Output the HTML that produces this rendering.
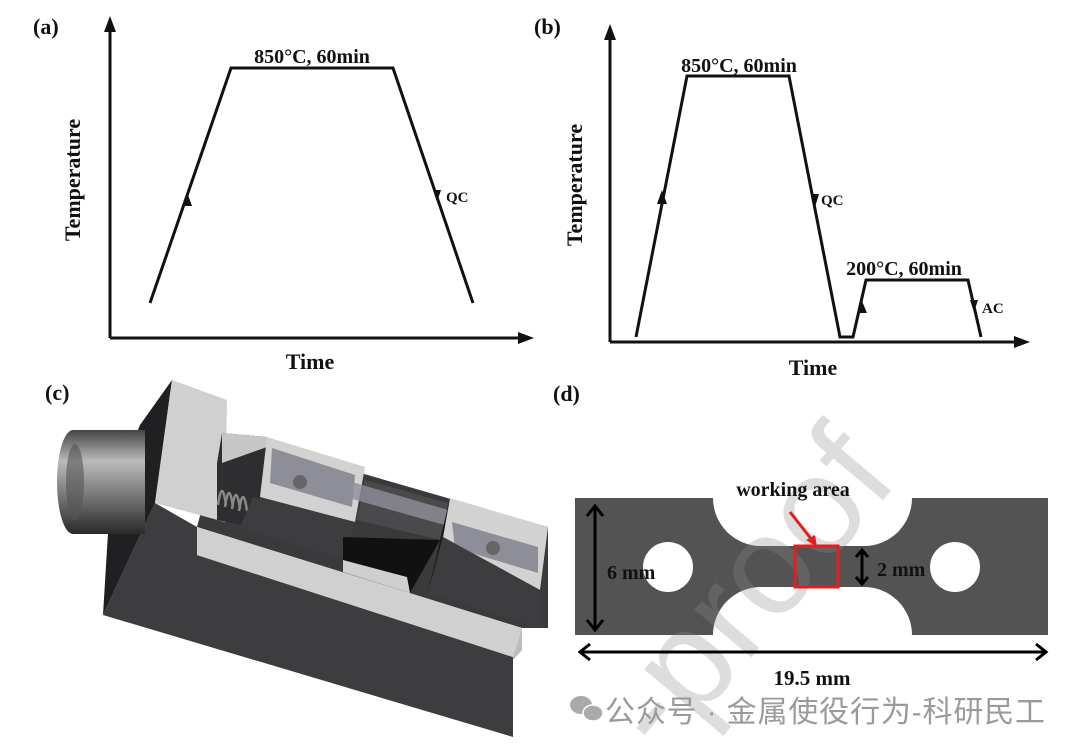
<!DOCTYPE html>
<html><head><meta charset="utf-8"><style>
html,body{margin:0;padding:0;background:#fff;}
svg{display:block;}
text{font-family:"Liberation Serif",serif;font-weight:bold;fill:#111;}
</style></head><body>
<svg width="1080" height="749" viewBox="0 0 1080 749" xmlns="http://www.w3.org/2000/svg">
<defs>
<linearGradient id="cyl" x1="0" y1="0" x2="0" y2="1"><stop offset="0" stop-color="#444"/><stop offset="0.3" stop-color="#bbb"/><stop offset="0.55" stop-color="#888"/><stop offset="1" stop-color="#2a2a2a"/></linearGradient>
</defs>

<!-- (a) -->
<text x="33" y="34" font-size="22">(a)</text>
<line x1="110" y1="338" x2="110" y2="30" stroke="#111" stroke-width="3"/>
<path d="M104,32 L110,16 L116,32 z" fill="#111"/>
<line x1="110" y1="338" x2="522" y2="338" stroke="#111" stroke-width="3"/>
<path d="M518,332 L534,338 L518,344 z" fill="#111"/>
<polyline points="150,303 231,68 393,68 473,303" fill="none" stroke="#111" stroke-width="3"/>
<path d="M182,206 L187,192 L192,206 z" fill="#111"/>
<path d="M433,190 L441,190 L437,202 z" fill="#111"/>
<text x="312" y="63" font-size="20" text-anchor="middle">850°C, 60min</text>
<text x="446" y="202" font-size="15">QC</text>
<text x="310" y="369" font-size="22" text-anchor="middle">Time</text>
<text transform="translate(80,180) rotate(-90)" font-size="22" text-anchor="middle">Temperature</text>

<!-- (b) -->
<text x="534" y="34" font-size="22">(b)</text>
<line x1="610" y1="342" x2="610" y2="38" stroke="#111" stroke-width="3"/>
<path d="M604,40 L610,24 L616,40 z" fill="#111"/>
<line x1="610" y1="342" x2="1018" y2="342" stroke="#111" stroke-width="3"/>
<path d="M1014,336 L1030,342 L1014,348 z" fill="#111"/>
<polyline points="636,337 687,76 789,76 840,337 853,337 866,280 968,280 981,337" fill="none" stroke="#111" stroke-width="3"/>
<path d="M657,204 L662,190 L667,204 z" fill="#111"/>
<path d="M811,194 L819,194 L815,207 z" fill="#111"/>
<path d="M857,313 L862,301 L867,313 z" fill="#111"/>
<path d="M970,300 L978,300 L974,312 z" fill="#111"/>
<text x="739" y="72" font-size="20" text-anchor="middle">850°C, 60min</text>
<text x="821" y="205" font-size="15">QC</text>
<text x="904" y="275" font-size="20" text-anchor="middle">200°C, 60min</text>
<text x="982" y="313" font-size="15">AC</text>
<text x="813" y="375" font-size="22" text-anchor="middle">Time</text>
<text transform="translate(582,185) rotate(-90)" font-size="22" text-anchor="middle">Temperature</text>

<!-- (c) -->
<text x="45" y="400" font-size="22">(c)</text>
<polygon points="222,433 548,527 548,628 522,628 197,527" fill="#3a3a3c"/>
<polygon points="155,503 197,527 197,555 513,657 513,737 103,615" fill="#3d3d3f"/>
<polygon points="197,527 522,628 513,657 197,555" fill="#d0d0d0"/>
<polygon points="513,657 522,628 522,650 513,660" fill="#bbb"/>
<polygon points="172,380 155,503 103,615 110,500 140,425" fill="#202022"/>
<rect x="73" y="430" width="72" height="104" fill="url(#cyl)"/>
<ellipse cx="73" cy="482" rx="16" ry="52" fill="url(#cyl)"/>
<ellipse cx="75" cy="482" rx="9" ry="38" fill="#555" opacity="0.6"/>
<polygon points="172,380 227,400 225,522 155,503" fill="#d0d0d0"/>
<polygon points="222,433 267,437 260,497 253,527 217,520 217,463" fill="#2e2e30"/>
<polygon points="222,433 267,437 267,447 222,463" fill="#c6c6c6"/>
<g stroke="#888" stroke-width="2.5" fill="none"><path d="M218,505 q4,-28 8,0"/><path d="M225,507 q4,-28 8,0"/><path d="M232,509 q4,-28 8,0"/><path d="M239,511 q4,-28 8,0"/></g>
<polygon points="267,437 365,467 355,522 260,497" fill="#d2d2d2"/>
<polygon points="272,448 355,475 352,507 270,483" fill="#8e8e98"/>
<circle cx="300" cy="482" r="7" fill="#666"/>
<polygon points="253,497 355,522 345,560 240,527" fill="#3d3d3f"/>
<polygon points="365,480 448,503 440,540 357,520" fill="#4a4a4c"/>
<polygon points="343,537 440,540 410,593 343,560" fill="#111"/>
<polygon points="343,560 407,577 410,593 343,572" fill="#cfcfcf"/>
<polygon points="345,480 455,512 455,528 345,497" fill="#8f8f99" opacity="0.8"/>
<polygon points="450,498 548,527 540,590 443,537" fill="#d2d2d2"/>
<polygon points="452,522 538,547 538,573 455,548" fill="#8e8e98"/>
<circle cx="493" cy="548" r="7" fill="#666"/>
<polygon points="450,498 443,537 428,593 440,540" fill="#1a1a1a"/>
<polygon points="443,537 540,590 540,628 428,593" fill="#3d3d3f"/>

<!-- (d) -->
<text x="553" y="401" font-size="22">(d)</text>
<text transform="translate(665,760) rotate(-50)" font-size="140" style="font-family:'Liberation Sans',sans-serif;font-weight:normal;fill:#dadada">-proof</text>
<path d="M575,498 L713,498 A48,48 0 0 0 761,546 L864,546 A48,48 0 0 0 912,498 L1048,498 L1048,635 L912,635 A48,48 0 0 0 864,587 L761,587 A48,48 0 0 0 713,635 L575,635 z" fill="#4a4a4a" opacity="0.95"/>
<circle cx="668" cy="567" r="25" fill="#fff"/>
<circle cx="955" cy="567" r="25" fill="#fff"/>
<text transform="translate(665,760) rotate(-50)" font-size="140" style="font-family:'Liberation Sans',sans-serif;font-weight:normal;fill:#ffffff;opacity:0.1">-proof</text>
<rect x="795" y="546" width="43" height="41" fill="none" stroke="#e02020" stroke-width="3"/>
<line x1="790" y1="512" x2="812" y2="540" stroke="#e02020" stroke-width="3"/>
<path d="M806,540 L817,547 L815,535 z" fill="#e02020"/>
<text x="793" y="496" font-size="20" text-anchor="middle">working area</text>
<line x1="595" y1="508" x2="595" y2="628" stroke="#000" stroke-width="3"/>
<polyline points="587,516 595,506 603,516" fill="none" stroke="#000" stroke-width="3"/>
<polyline points="587,620 595,630 603,620" fill="none" stroke="#000" stroke-width="3"/>
<text x="607" y="579" font-size="20">6 mm</text>
<line x1="862" y1="550" x2="862" y2="584" stroke="#000" stroke-width="3"/>
<polyline points="856,557 862,550 868,557" fill="none" stroke="#000" stroke-width="3"/>
<polyline points="856,577 862,584 868,577" fill="none" stroke="#000" stroke-width="3"/>
<text x="877" y="576" font-size="20">2 mm</text>
<line x1="580" y1="652" x2="1046" y2="652" stroke="#000" stroke-width="3"/>
<polyline points="590,644 580,652 590,660" fill="none" stroke="#000" stroke-width="3"/>
<polyline points="1036,644 1046,652 1036,660" fill="none" stroke="#000" stroke-width="3"/>
<text x="812" y="685" font-size="21" text-anchor="middle">19.5 mm</text>
<ellipse cx="581" cy="705" rx="11" ry="9" fill="#aaa"/>
<ellipse cx="593" cy="713" rx="10" ry="8" fill="#aaa" stroke="#fff" stroke-width="1.5"/>
<text x="605" y="722" font-size="30" textLength="440" style="font-family:'Liberation Sans','Noto Sans CJK SC',sans-serif;font-weight:normal;fill:#9a9a9a">公众号 · 金属使役行为-科研民工</text>
</svg>
</body></html>
